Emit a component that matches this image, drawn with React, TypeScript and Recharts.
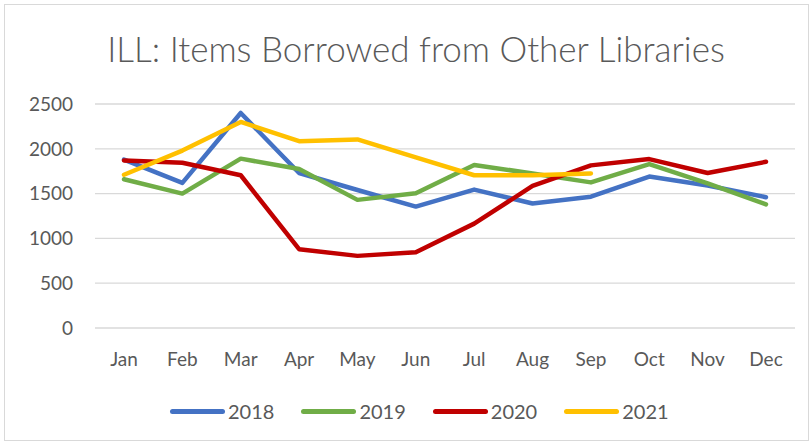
import { LineChart, Line, XAxis, YAxis, CartesianGrid } from "recharts";

const meses = ["Jan", "Feb", "Mar", "Apr", "May", "Jun", "Jul", "Aug", "Sep", "Oct", "Nov", "Dec"];
const serie2018 = [1880, 1620, 2400, 1730, 1540, 1355, 1545, 1390, 1465, 1690, 1590, 1460];
const serie2019 = [1660, 1500, 1890, 1775, 1430, 1505, 1820, 1725, 1625, 1830, 1615, 1380];
const serie2020 = [1870, 1845, 1705, 880, 805, 845, 1165, 1585, 1815, 1885, 1730, 1855];
const serie2021 = [1710, 1980, 2300, 2085, 2105, 1905, 1705, 1705, 1725, null, null, null];
const ticksY = [0, 500, 1000, 1500, 2000, 2500];

const series = [
  { key: "2018", cor: "#4472C4" },
  { key: "2019", cor: "#70AD47" },
  { key: "2020", cor: "#C00000" },
  { key: "2021", cor: "#FFC000" },
];

const dados = meses.map((mes, i) => ({
  mes,
  "2018": serie2018[i],
  "2019": serie2019[i],
  "2020": serie2020[i],
  "2021": serie2021[i],
}));

const fonte = "Lato, 'Open Sans', sans-serif";

export default function App() {
  return (
    <div style={{ position: "absolute", left: 0, top: 0, width: 812, height: 447, background: "#fff" }}>
      <div
        style={{
          position: "absolute",
          left: 4,
          top: 4,
          width: 803,
          height: 435,
          border: "1px solid #d9d9d9",
        }}
      />
      <div
        style={{
          position: "absolute",
          left: 0,
          top: 27,
          width: 832,
          textAlign: "center",
          fontFamily: fonte,
          fontWeight: 300,
          fontSize: 35,
          color: "#595959",
        }}
      >
        ILL: Items Borrowed from Other Libraries
      </div>
      <div style={{ position: "absolute", left: 0, top: 0 }}>
        <LineChart width={812} height={447} data={dados} margin={{ top: 104, right: 17, bottom: 89, left: 0 }}>
          <CartesianGrid vertical={false} stroke="#d9d9d9" strokeWidth={1.3} />
          <XAxis
            dataKey="mes"
            height={30}
            axisLine={false}
            tickLine={false}
            tickSize={0}
            tickMargin={25}
            interval={0}
            padding={{ left: 29, right: 29 }}
            tick={{ fill: "#595959", fontSize: 19, fontFamily: fonte }}
          />
          <YAxis
            width={95}
            domain={[0, 2500]}
            ticks={ticksY}
            axisLine={false}
            tickLine={false}
            tickSize={0}
            tickMargin={22}
            tick={{ fill: "#595959", fontSize: 19, fontFamily: fonte }}
          />
          {series.map((s) => (
            <Line
              key={s.key}
              type="linear"
              dataKey={s.key}
              stroke={s.cor}
              strokeWidth={4.5}
              strokeLinecap="round"
              strokeLinejoin="round"
              dot={false}
              activeDot={false}
              isAnimationActive={false}
            />
          ))}
        </LineChart>
      </div>
      <div
        style={{
          position: "absolute",
          left: 170,
          top: 398,
          display: "flex",
          fontFamily: fonte,
        }}
      >
        {series.map((s) => (
          <div key={s.key} style={{ display: "flex", alignItems: "center", marginRight: 27, height: 26 }}>
            <div style={{ width: 55, height: 5, borderRadius: 3, background: s.cor, marginRight: 3 }} />
            <span style={{ fontSize: 20, color: "#595959" }}>{s.key}</span>
          </div>
        ))}
      </div>
    </div>
  );
}
